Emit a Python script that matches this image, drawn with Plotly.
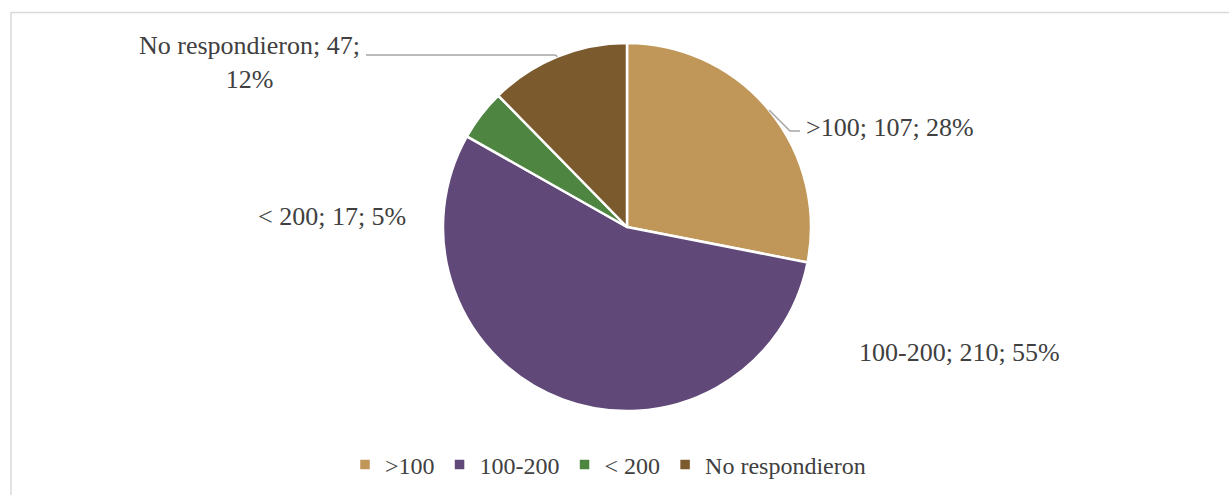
import math
import plotly.graph_objects as go

# ---- data ----
categories = [">100", "100-200", "< 200", "No respondieron"]
values = [107, 210, 17, 47]
pct_labels = ["28%", "55%", "5%", "12%"]
colors = ["#C19759", "#604878", "#4E8540", "#7B5B2E"]

W, H = 1229, 495
CX, CY, R = 627, 227, 184  # pie centre / radius in pixels

def px(x):
    return x / W

def py(y):
    return 1 - y / H

label_font = dict(family="Liberation Serif", size=26, color="#404040")
legend_font = dict(family="Liberation Serif", size=24, color="#404040")

fig = go.Figure(go.Pie(
    labels=categories,
    values=values,
    sort=False,
    direction="clockwise",
    rotation=0,
    marker=dict(colors=colors, line=dict(color="white", width=2.5)),
    textinfo="none",
    hoverinfo="label+value+percent",
    domain=dict(x=[px(CX - R), px(CX + R)], y=[py(CY + R), py(CY - R)]),
    showlegend=True,
))

# label placement (layout): x, y, xanchor, elbow/leader info
label_layout = [
    dict(x=804, y=127, xanchor="left", leader=[(790, 131), (800, 131)]),
    dict(x=857, y=352, xanchor="left", leader=None),
    dict(x=408, y=217, xanchor="right", leader=None),
    dict(x=249, y=62, xanchor="center", leader=[(555, 55), (366, 55)]),
]

total = sum(values)
cum = 0
annotations = []
shapes = []
for cat, v, pct, lay in zip(categories, values, pct_labels, label_layout):
    mid = (cum + v / 2) / total * 2 * math.pi
    cum += v
    if cat == "No respondieron":
        txt = f"{cat}; {v};<br>{pct}"
    else:
        txt = f"{cat}; {v}; {pct}"
    annotations.append(dict(
        x=px(lay["x"]), y=py(lay["y"]), xref="paper", yref="paper",
        text=txt, showarrow=False, xanchor=lay["xanchor"], yanchor="middle",
        font=label_font, align="center",
    ))
    if lay["leader"]:
        ex = CX + R * math.sin(mid)
        ey = CY - R * math.cos(mid)
        pts = [(ex, ey)] + lay["leader"]
        path = "M " + " L ".join(f"{px(a)},{py(b)}" for a, b in pts)
        shapes.append(dict(type="path", path=path, xref="paper", yref="paper",
                           line=dict(color="#A6A6A6", width=1.5)))

# chart border
shapes.append(dict(type="rect", xref="paper", yref="paper",
                   x0=px(11), x1=1.05, y0=-0.05, y1=py(12.5),
                   line=dict(color="#D9D9D9", width=1.5), layer="below"))

fig.update_layout(
    width=W, height=H,
    margin=dict(l=0, r=0, t=0, b=0),
    paper_bgcolor="white",
    plot_bgcolor="white",
    font=legend_font,
    annotations=annotations,
    shapes=shapes,
    legend=dict(
        orientation="h", x=px(608), xanchor="center", y=py(465), yanchor="middle",
        font=legend_font, itemwidth=30, traceorder="normal",
        bgcolor="rgba(0,0,0,0)",
    ),
)

fig.write_html("out.html")
